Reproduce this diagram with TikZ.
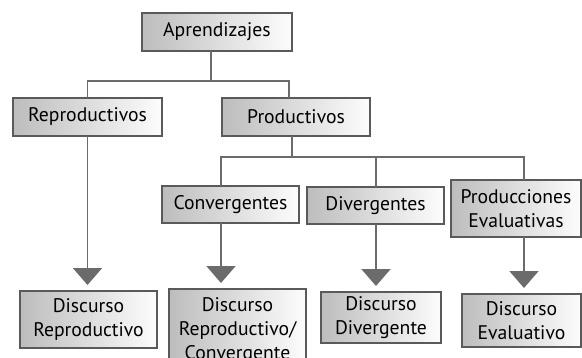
\documentclass[tikz,border=0pt]{standalone}
\usepackage{fontspec}
\setmainfont{PT Sans}
\usetikzlibrary{arrows.meta}

\definecolor{linegray}{HTML}{6B6B6B}
\definecolor{boxline}{HTML}{5A5A5A}

\tikzset{
  box/.style={draw=boxline, line width=0.95pt, left color=black!26, right color=black!1,
    inner sep=0pt, outer sep=0pt, align=center, font=\fontsize{11.2}{13.6}\selectfont},
  link/.style={draw=linegray, line width=1.1pt},
  flow/.style={link, -{Triangle[width=0.58cm, length=0.34cm]}, shorten >=0.12cm}
}

\begin{document}
\begin{tikzpicture}[x=0.02cm, y=-0.02cm]
\useasboundingbox (0,0) rectangle (582,358);

\node[box, minimum width=3cm, minimum height=0.76cm] (apr) at (217,32) {Aprendizajes};
\node[box, minimum width=2.98cm, minimum height=0.76cm] (rep) at (87.5,117) {Reproductivos};
\node[box, minimum width=2.96cm, minimum height=0.76cm] (prod) at (296,117) {Productivos};

\node[box, minimum width=2.74cm, minimum height=0.74cm] (conv) at (230.5,204.5) {Convergentes};
\node[box, minimum width=2.74cm, minimum height=0.74cm] (div) at (375.5,205.5) {Divergentes};
\node[box, minimum width=2.6cm, minimum height=1.14cm] (peval) at (516,208.5) {Producciones\\Evaluativas};

\node[box, minimum width=2.74cm, minimum height=1.14cm] (drep) at (88.5,319.5) {Discurso\\Reproductivo};
\node[box, minimum width=2.74cm, minimum height=1.68cm] (dconv) at (237.5,331) {Discurso\\Reproductivo/\\Convergente};
\node[box, minimum width=2.4cm, minimum height=1.02cm] (ddiv) at (381,317.5) {Discurso\\Divergente};
\node[box, minimum width=2.38cm, minimum height=1.06cm] (deval) at (521.5,320.5) {Discurso\\Evaluativo};

% bus points
\coordinate (t1) at (211,81);
\coordinate (t2) at (289,81);
\coordinate (t3) at (292,157);
\coordinate (t4) at (221,157);
\coordinate (t5) at (376,157);
\coordinate (t6) at (524,157);

\draw[link] (apr.south -| t1) -- (t1);
\draw[link] (rep.north) |- (t2) -- (t2 |- prod.north);
\draw[link] (prod.south -| t3) -- (t3);
\draw[link] (t4 |- conv.north) |- (t6) -- (t6 |- peval.north);
\draw[link] (t5) -- (t5 |- div.north);

\draw[flow] (rep.south) -- (rep.south |- drep.north);
\draw[flow] (conv.south -| t4) -- (t4 |- dconv.north);
\draw[flow] (div.south -| t5) -- (t5 |- ddiv.north);
\draw[flow] (peval.south -| t6) -- (t6 |- deval.north);
\end{tikzpicture}
\end{document}
